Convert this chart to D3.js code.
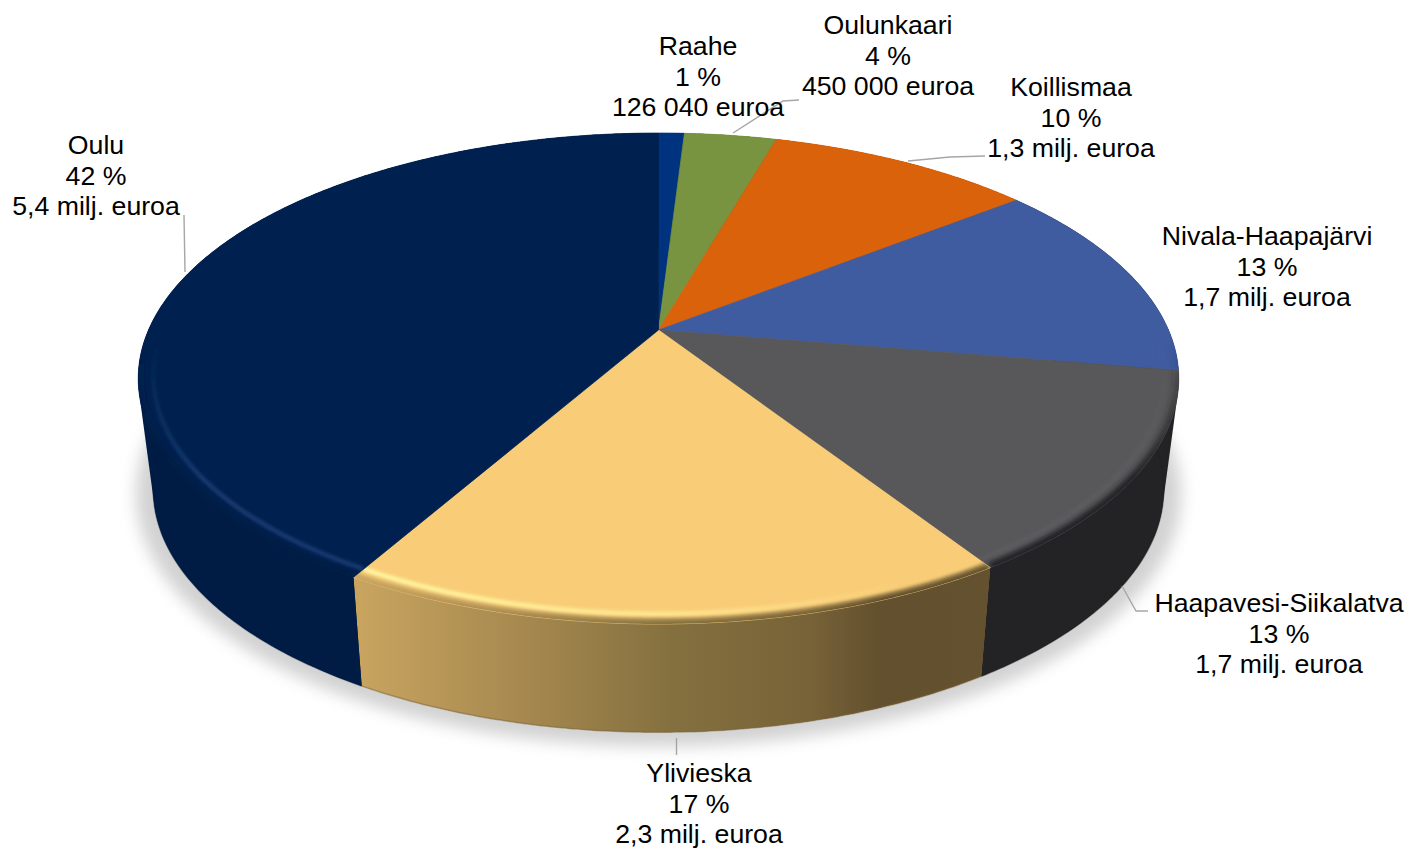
<!DOCTYPE html>
<html>
<head>
<meta charset="utf-8">
<script src="https://cdn.jsdelivr.net/npm/d3@7"></script>
<style>
html,body{margin:0;padding:0;background:#fff;}
svg{display:block;}
text{font-family:"Liberation Sans",Arial,sans-serif;font-size:26.7px;fill:#000;text-anchor:middle;}
</style>
</head>
<body>
<svg id="c" width="1406" height="848"></svg>
<script>
// Data
const categories = ["Raahe","Oulunkaari","Koillismaa","Nivala-Haapajärvi","Haapavesi-Siikalatva","Ylivieska","Oulu"];
const values = [126040,450000,1300000,1720000,1720000,2260000,5430000];
const percents = ["1 %","4 %","10 %","13 %","13 %","17 %","42 %"];
const amounts = ["126 040 euroa","450 000 euroa","1,3 milj. euroa","1,7 milj. euroa","1,7 milj. euroa","2,3 milj. euroa","5,4 milj. euroa"];

// Styles
const topColors = ["#00337f","#789440","#d9620a","#405ca0","#58585a","#f9cd78","#00214f"];
const wallColors = ["#00225a","#55692d","#9c4607","#232325","#232325","#8a7040","#001c44"];
const rimColors = ["#00225a","#55692d","#9c4607","#1f2f55","#232325","#8a7040","#001c44"];
const glowColors = ["#00337f","#789440","#d9620a","#405ca0","#5c5c5e","#ffec98","#14376e"];

// Label layout: x centre, first baseline, leader polyline
const labelX = [698,888,1071,1267,1279,699,96];
const labelY = [55,34,96,245,612,782,154];
const lineStep = 30.5;
const leaders = [
  [],
  [[733,133],[783,101],[799,100]],
  [[908,161],[950,157],[985,156]],
  [],
  [[1122,586],[1136,611],[1148,611]],
  [[676.5,738],[676.5,755]],
  [[184,215],[185,272]]
];

// Perspective projection of the pie disc: top face and foot of the wall
const cx = 658.5, cy = 330;
const face = {A: 510, B: 235.9, K: 0.1976, dy: 0};
const base = {A: 495, B: 233, K: 0.2, dy: 111};
function project(angle, r, p) {
  const u = r * Math.sin(angle), v = -r * Math.cos(angle), w = 1 - p.K * v;
  return [cx + p.A * u / w, cy + p.dy + p.B * v / w];
}
const arcPts = (a0, a1, r, p) => {
  const n = Math.max(2, Math.ceil((a1 - a0) / 0.01));
  return d3.range(n + 1).map(i => project(a0 + (a1 - a0) * i / n, r, p));
};
const line = d3.line();
const arcs = d3.pie().sort(null)(values);
const svg = d3.select("#c");
const defs = svg.append("defs");

const blur = (id, sd) => defs.append("filter").attr("id", id)
  .attr("x", "-10%").attr("y", "-10%").attr("width", "120%").attr("height", "120%")
  .append("feGaussianBlur").attr("stdDeviation", sd);
blur("shadowBlur", 8); blur("rimBlur", 2.6); blur("glowBlur", 1.8);

const goldStops = [[0,"#c8a45f"],[0.25,"#a88a50"],[0.5,"#84703f"],[0.72,"#786338"],[0.83,"#62502e"],[1,"#64512f"]];
const gold = defs.append("linearGradient").attr("id", "goldSide").attr("gradientUnits", "userSpaceOnUse")
  .attr("x1", 358).attr("x2", 985).attr("y1", 0).attr("y2", 0);
goldStops.forEach(d => gold.append("stop").attr("offset", d[0]).attr("stop-color", d[1]));

const goldGlow = defs.append("linearGradient").attr("id", "goldGlow").attr("gradientUnits", "userSpaceOnUse")
  .attr("x1", 358).attr("x2", 900).attr("y1", 0).attr("y2", 0);
goldGlow.append("stop").attr("offset", 0).attr("stop-color", "#fff6a0");
goldGlow.append("stop").attr("offset", 0.6).attr("stop-color", "#ffe48e");
goldGlow.append("stop").attr("offset", 1).attr("stop-color", "#f9cd78");

// Rim fade gradients: the bevel shows at the front only
arcs.forEach((d, i) => {
  [["rim", rimColors[i]], ["glow", glowColors[i]]].forEach(([n, c]) => {
    const g = defs.append("linearGradient").attr("id", n + i).attr("gradientUnits", "userSpaceOnUse")
      .attr("x1", 0).attr("x2", 0).attr("y1", 340).attr("y2", 480);
    g.append("stop").attr("offset", 0).attr("stop-color", c).attr("stop-opacity", 0);
    g.append("stop").attr("offset", 1).attr("stop-color", c).attr("stop-opacity", 1);
  });
});

// Ground shadow
const full = arcPts(0, 2 * Math.PI, 1, {A: 512, B: 242, K: 0.2, dy: 114});
svg.append("path").attr("d", line(full) + "Z").attr("fill", "#d2d2d2").attr("filter", "url(#shadowBlur)");

// Side walls: a hull for the silhouette, then the wall band itself
const sides = svg.append("g");
const wallFill = i => categories[i] === "Ylivieska" ? "url(#goldSide)" : wallColors[i];
arcs.forEach((d, i) => {
  const t = arcPts(d.startAngle, d.endAngle, 1, face), b = arcPts(d.startAngle, d.endAngle, 1, base);
  sides.append("path").attr("d", line(d3.polygonHull(t.concat(b))) + "Z").attr("fill", wallFill(i));
});
arcs.forEach((d, i) => {
  const t = arcPts(d.startAngle, d.endAngle, 1, face), b = arcPts(d.startAngle, d.endAngle, 1, base);
  sides.append("path").attr("d", line(t.concat(b.slice().reverse())) + "Z").attr("fill", wallFill(i));
});
const foot = svg.append("g");
arcs.forEach((d, i) => {
  foot.append("path").attr("d", line(arcPts(d.startAngle, d.endAngle, 1, base)))
    .attr("fill", "none").attr("stroke", d3.color(wallColors[i]).darker(0.3)).attr("stroke-width", 1.5).attr("opacity", 0.5);
});

// Top faces with bevel
const tops = svg.append("g");
arcs.forEach((d, i) => {
  const gold_ = categories[i] === "Ylivieska";
  const facePath = line([[cx, cy]].concat(arcPts(d.startAngle, d.endAngle, 1, face))) + "Z";
  defs.append("clipPath").attr("id", "clip" + i).append("path").attr("d", facePath);
  tops.append("path").attr("d", facePath).attr("fill", topColors[i]).attr("stroke", topColors[i]).attr("stroke-width", 0.7);
  const g = tops.append("g").attr("clip-path", `url(#clip${i})`);
  g.append("path").attr("d", line(arcPts(d.startAngle, d.endAngle, 1, face)))
    .attr("fill", "none").attr("stroke", gold_ ? "url(#goldSide)" : `url(#rim${i})`)
    .attr("stroke-width", 11).attr("filter", "url(#rimBlur)");
  g.append("path").attr("d", line(arcPts(d.startAngle, d.endAngle, 0.972, face)))
    .attr("fill", "none").attr("stroke", gold_ ? "url(#goldGlow)" : `url(#glow${i})`)
    .attr("stroke-width", 4.5).attr("filter", "url(#glowBlur)");
});

// Leaders
svg.append("g").selectAll("path").data(leaders.filter(l => l.length)).join("path")
  .attr("d", l => line(l)).attr("fill", "none").attr("stroke", "#a6a6a6").attr("stroke-width", 1.4);

// Labels
const labels = svg.append("g").selectAll("text").data(categories).join("text")
  .attr("x", (d, i) => labelX[i]).attr("y", (d, i) => labelY[i]);
labels.each(function (d, i) {
  [d, percents[i], amounts[i]].forEach((t, k) => {
    d3.select(this).append("tspan").attr("x", labelX[i]).attr("y", labelY[i] + k * lineStep).text(t);
  });
});
</script>
</body>
</html>
